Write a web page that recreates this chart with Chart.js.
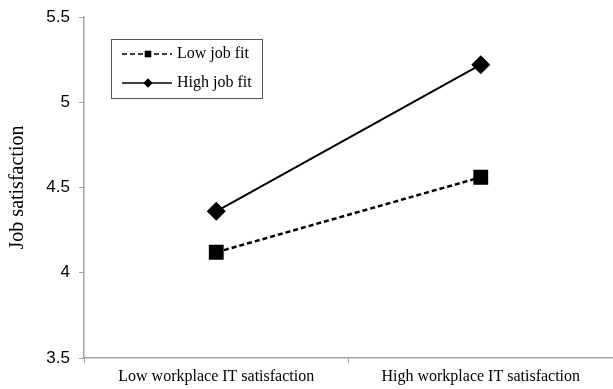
<!DOCTYPE html>
<html>
<head>
  <title>Job satisfaction</title>
  <script src="https://cdn.jsdelivr.net/npm/chart.js"></script>
  <style>
    html, body { margin: 0; padding: 0; background: #fff; overflow: hidden; }
    .wrap { width: 613px; height: 389px; position: relative; }
  </style>
</head>
<body>
  <div class="wrap"><canvas id="chart"></canvas></div>

  <script>
    // categories and values
    const categories = ['Low workplace IT satisfaction', 'High workplace IT satisfaction'];
    const lowJobFit = [4.12, 4.56];
    const highJobFit = [4.36, 5.22];
    const yTicks = [3.5, 4, 4.5, 5, 5.5];

    const serif = '"Liberation Serif", "DejaVu Serif", serif';
    const sans = '"Liberation Sans", Arial, sans-serif';

    // legend box with line sample + marker, like the original
    const lineLegend = {
      id: 'lineLegend',
      afterDraw(chart) {
        const ctx = chart.ctx;
        const area = chart.chartArea;
        const x0 = area.left + 27, y0 = area.top + 22;
        const w = 151, h = 59;
        ctx.save();
        ctx.strokeStyle = '#555';
        ctx.lineWidth = 1;
        ctx.strokeRect(x0 + 0.5, y0 + 0.5, w, h);
        chart.data.datasets.forEach((ds, i) => {
          const y = y0 + 15 + i * 29;
          ctx.beginPath();
          ctx.setLineDash(ds.borderDash || []);
          ctx.strokeStyle = '#000';
          ctx.lineWidth = 1.5;
          ctx.moveTo(x0 + 11, y);
          ctx.lineTo(x0 + 61, y);
          ctx.stroke();
          ctx.setLineDash([]);
          Chart.helpers.drawPoint(ctx, {
            pointStyle: ds.pointStyle, radius: 4.5, borderWidth: 0
          }, x0 + 37, y);
          ctx.fillStyle = '#000';
          ctx.fill();
          ctx.font = '16px ' + serif;
          ctx.textBaseline = 'middle';
          ctx.fillText(ds.label, x0 + 66, y);
        });
        ctx.restore();
      }
    };

    new Chart(document.getElementById('chart'), {
      type: 'line',
      data: {
        labels: categories,
        datasets: [
          {
            label: 'Low job fit',
            data: lowJobFit,
            borderColor: '#000',
            backgroundColor: '#000',
            borderWidth: 2.5,
            borderDash: [5, 3],
            pointStyle: 'rect',
            pointRadius: 10.5,
            pointBorderWidth: 0
          },
          {
            label: 'High job fit',
            data: highJobFit,
            borderColor: '#000',
            backgroundColor: '#000',
            borderWidth: 2,
            pointStyle: 'rectRot',
            pointRadius: 9.5,
            pointBorderWidth: 0
          }
        ]
      },
      options: {
        responsive: true,
        maintainAspectRatio: false,
        animation: false,
        layout: { autoPadding: false, padding: { top: 17, right: 0, left: 0, bottom: 0 } },
        plugins: {
          legend: { display: false },
          tooltip: { enabled: false }
        },
        scales: {
          x: {
            offset: true,
            grid: {
              display: true,
              drawOnChartArea: false,
              offset: true,
              color: '#a0a0a0',
              tickLength: 5
            },
            border: { color: '#a0a0a0', width: 1.5 },
            ticks: {
              color: '#000',
              font: { family: serif, size: 16 },
              padding: 4,
              maxRotation: 0
            },
            afterFit(scale) {
              scale.height = 31;
              scale.paddingLeft = 0;
              scale.paddingRight = 0;
            }
          },
          y: {
            min: 3.5,
            max: 5.5,
            afterBuildTicks(scale) { scale.ticks = yTicks.map(v => ({ value: v })); },
            grid: {
              display: true,
              drawOnChartArea: false,
              color: '#a0a0a0',
              tickLength: 5
            },
            border: { color: '#a0a0a0', width: 1.5 },
            ticks: {
              color: '#000',
              font: { family: sans, size: 17 },
              padding: 9,
              callback: v => String(v)
            },
            title: {
              display: true,
              text: 'Job satisfaction',
              color: '#000',
              font: { family: serif, size: 20 },
              padding: { top: 6, bottom: 0 }
            },
            afterFit(scale) {
              scale.width = 84;
              scale.paddingTop = 0;
              scale.paddingBottom = 0;
            }
          }
        }
      },
      plugins: [lineLegend]
    });
  </script>
</body>
</html>
